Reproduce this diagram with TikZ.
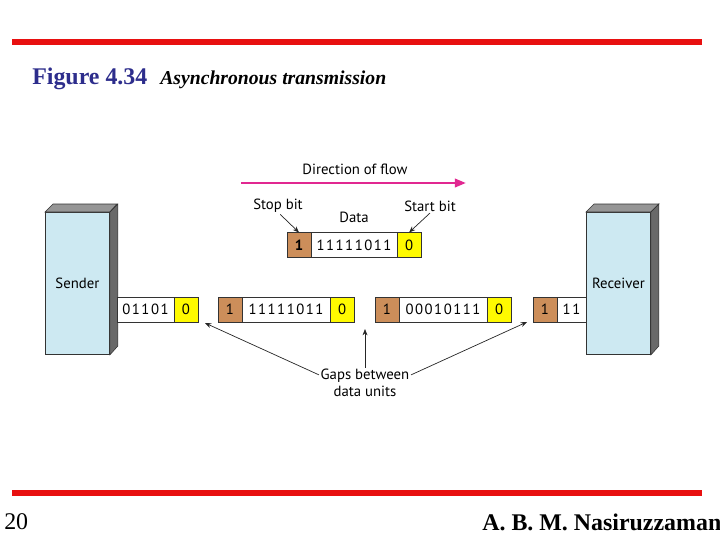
\documentclass[tikz,border=0pt]{standalone}
\usepackage{fontspec}
\setmainfont{Liberation Serif}
\setsansfont{PT Sans}
\usetikzlibrary{positioning,arrows.meta}

\definecolor{slidered}{RGB}{232,16,16}
\definecolor{figblue}{RGB}{45,45,140}
\definecolor{flowpink}{RGB}{225,40,145}
\definecolor{stopbrown}{RGB}{204,142,90}
\definecolor{startyellow}{RGB}{255,250,0}
\definecolor{boxfront}{RGB}{205,233,242}
\definecolor{boxtop}{RGB}{150,150,150}
\definecolor{boxside}{RGB}{105,105,105}

\tikzset{
  cell/.style={draw=black!80, line width=0.6pt, minimum height=0.625cm, inner sep=0pt, outer sep=0pt,
    font=\sffamily\fontsize{10.5}{12}\selectfont\addfontfeature{LetterSpace=10}},
  stopcell/.style={cell, fill=stopbrown, minimum width=0.6cm},
  startcell/.style={cell, fill=startyellow, minimum width=0.6cm},
  datacell/.style={cell, fill=white, minimum width=2.2cm},
  station/.style={draw=black!80, line width=0.6pt, fill=boxfront, minimum width=1.6cm, minimum height=3.55cm,
    inner sep=0pt, font=\sffamily\fontsize{10.5}{12}\selectfont},
  txt/.style={font=\sffamily\fontsize{10.5}{12}\selectfont, inner sep=1pt, align=center},
  pointer/.style={-{Stealth[length=4.5pt,width=3.5pt]}, line width=0.5pt, black!85},
}

\begin{document}
\begin{tikzpicture}[x=0.025cm, y=-0.025cm]
    \useasboundingbox (0,0) rectangle (720,540);

    % Slide frame
    \fill[slidered] (12,39) rectangle (702,45);
    \fill[slidered] (12,490) rectangle (702,496);
    \node[anchor=west, inner sep=0pt, text=figblue, font=\bfseries\fontsize{17}{20}\selectfont] (fignum) at (32,79) {Figure 4.34};
    \node[anchor=west, inner sep=0pt, font=\bfseries\itshape\fontsize{14}{17}\selectfont] (figtitle) at (160,80) {Asynchronous transmission};
    \node[anchor=west, inner sep=0pt, font=\fontsize{17}{20}\selectfont] (pagenum) at (4,522) {20};
    \node[anchor=west, inner sep=0pt, font=\bfseries\fontsize{17}{20}\selectfont] (author) at (482,522) {A. B. M. Nasiruzzaman};

    % Sender and receiver
    \node[station, anchor=north west] (sender) at (45,212) {Sender};
    \fill[boxtop, draw=black!80, line width=0.4pt] (sender.north west) -- ++(8,-8) -- ++(64,0) -- (sender.north east) -- cycle;
    \fill[boxside, draw=black!80, line width=0.4pt] (sender.north east) -- ++(8,-8) -- ++(0,142) -- (sender.south east) -- cycle;

    % Frames on the line
    \node[datacell, minimum width=1.425cm, anchor=west] (f0data) at (117,309.5) {01101};
    \node[startcell, right=0pt of f0data] (f0start) {0};

    \node[stopcell, anchor=west] (f1stop) at (218,309.5) {1};
    \node[datacell, right=0pt of f1stop] (f1data) {11111011};
    \node[startcell, right=0pt of f1data] (f1start) {0};

    \node[stopcell, anchor=west] (f2stop) at (375,309.5) {1};
    \node[datacell, right=0pt of f2stop] (f2data) {00010111};
    \node[startcell, right=0pt of f2data] (f2start) {0};

    \node[stopcell, anchor=west] (f3stop) at (533,309.5) {1};
    \node[datacell, minimum width=0.725cm, right=0pt of f3stop] (f3data) {11};

    \node[station, anchor=north west] (receiver) at (586,212) {Receiver};
    \fill[boxtop, draw=black!80, line width=0.4pt] (receiver.north west) -- ++(8,-8) -- ++(65,0) -- (receiver.north east) -- cycle;
    \fill[boxside, draw=black!80, line width=0.4pt] (receiver.north east) -- ++(8,-8) -- ++(0,142) -- (receiver.south east) -- cycle;

    % Direction of flow
    \coordinate (flowA) at (241,183);
    \coordinate (flowB) at (466,183);
    \draw[-{Triangle[length=8pt,width=6pt]}, flowpink, line width=1.8pt] (flowA) -- (flowB);
    \node[txt] (flowlbl) at (355,169) {Direction of flow};

    % One frame in detail
    \node[stopcell, anchor=west, font=\sffamily\bfseries\fontsize{10.5}{12}\selectfont] (t0stop) at (287,245) {1};
    \node[datacell, minimum width=2.15cm, right=0pt of t0stop] (t0data) {11111011};
    \node[startcell, right=0pt of t0data] (t0start) {0};
    \node[txt] (stoplbl) at (278,206) {Stop bit};
    \node[txt] (datalbl) at (354,217) {Data};
    \node[txt] (startlbl) at (430,206) {Start bit};
    \draw[pointer] (stoplbl.-75) -- (t0stop.north);
    \draw[pointer] (startlbl.south) -- (t0start.north);

    % Gaps
    \node[txt] (gaps) at (365,383) {Gaps between\\data units};
    \coordinate (gap1) at (205,323);
    \coordinate (gap2) at (365,329);
    \coordinate (gap3) at (527,322);
    \draw[pointer] (gaps.170) -- (gap1);
    \draw[pointer] (gaps.north) -- (gap2);
    \draw[pointer] (gaps.10) -- (gap3);
\end{tikzpicture}
\end{document}
